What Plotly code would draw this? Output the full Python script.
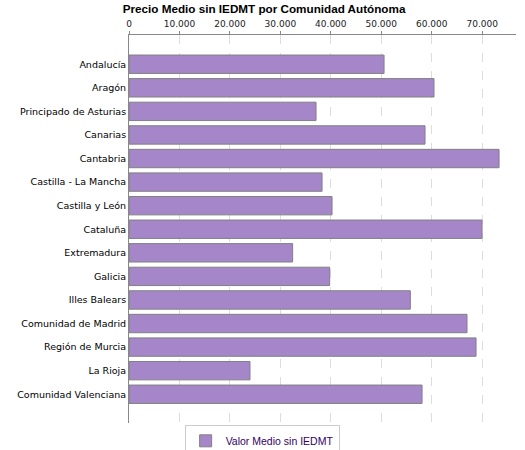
import plotly.graph_objects as go

categories = ["Andalucía", "Aragón", "Principado de Asturias", "Canarias", "Cantabria",
              "Castilla - La Mancha", "Castilla y León", "Cataluña", "Extremadura", "Galicia",
              "Illes Balears", "Comunidad de Madrid", "Región de Murcia", "La Rioja",
              "Comunidad Valenciana"]
values = [50550, 60450, 37070, 58670, 73340, 38260, 40240, 69970, 32430, 39770,
          55760, 66990, 68780, 23980, 58080]
series_name = "Valor Medio sin IEDMT"
tick_vals = [0, 10000, 20000, 30000, 40000, 50000, 60000, 70000]
tick_text = ["0", "10.000", "20.000", "30.000", "40.000", "50.000", "60.000", "70.000"]

fig = go.Figure()
fig.add_trace(go.Bar(
    y=categories, x=values, orientation="h", name=series_name,
    marker=dict(color="#A586C9", line=dict(color="#808080", width=1)),
    width=0.78, showlegend=True,
))

fig.update_layout(
    width=525, height=450,
    paper_bgcolor="white", plot_bgcolor="white",
    margin=dict(l=129, r=9, t=35, b=27, autoexpand=False),
    title=dict(text="<b>Precio Medio sin IEDMT por Comunidad Autónoma</b>",
               x=0.503, xanchor="center", y=0.99, yanchor="top",
               font=dict(family="Liberation Sans, Arial", size=11.7, color="black")),
    xaxis=dict(side="top", range=[0, 76700], tickvals=tick_vals, ticktext=tick_text,
               showgrid=True, gridcolor="#DDDDDD", griddash="dash", gridwidth=1,
               showline=True, linecolor="#888888", linewidth=1,
               ticks="outside", ticklen=3, tickcolor="#888888",
               tickfont=dict(family="DejaVu Sans", size=9, color="#222222"),
               zeroline=False, automargin=False),
    yaxis=dict(range=[15.22, -1.24], showgrid=False, showline=True, linecolor="#888888",
               linewidth=1, ticks="", ticklen=0,
               tickfont=dict(family="DejaVu Sans", size=9.5, color="#000000"),
               zeroline=False, automargin=False),
    legend=dict(orientation="h", x=0.344, xanchor="center", y=-0.006, yanchor="top",
                bordercolor="#CCCCCC", borderwidth=1, bgcolor="white", itemwidth=30,
                font=dict(family="Liberation Sans, Arial", size=10.5, color="#330066")),
    bargap=0.22,
)

fig.write_html("out.html", config={"displayModeBar": False},
               post_script="document.body.style.margin='0px';")
